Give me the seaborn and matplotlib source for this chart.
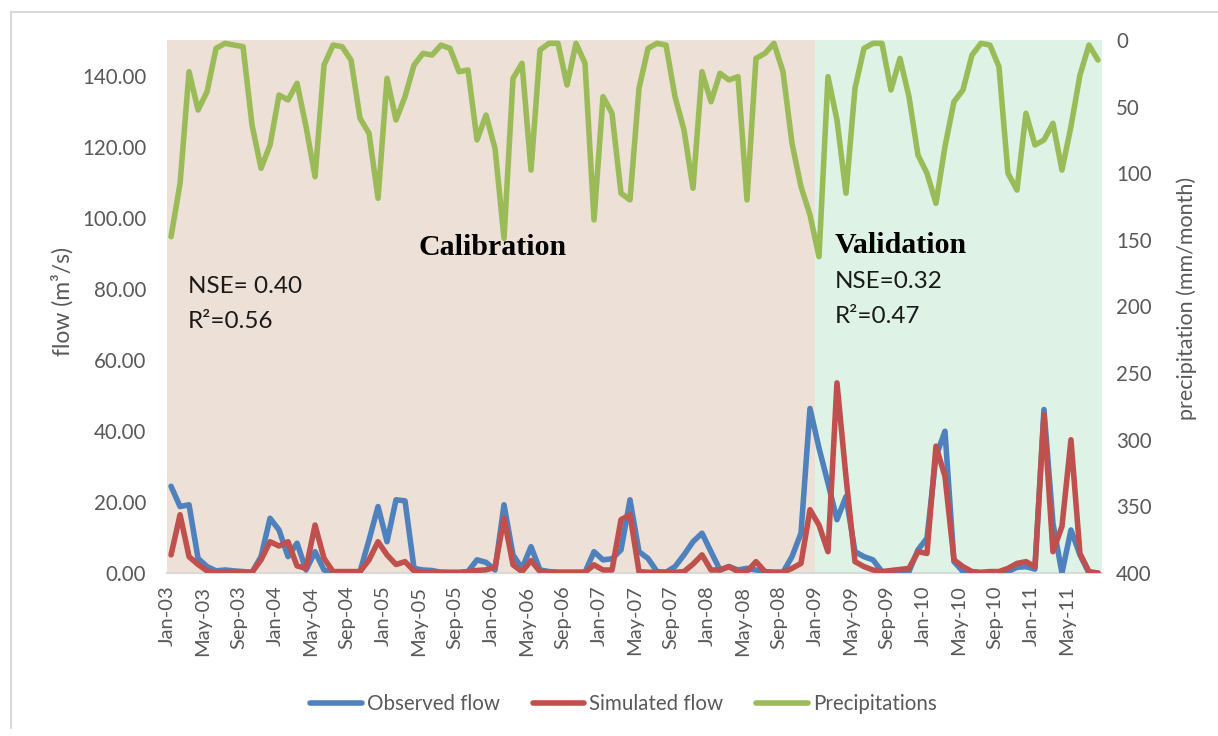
import numpy as np
import pandas as pd
import matplotlib
matplotlib.use("Agg")
import matplotlib.pyplot as plt
from matplotlib.lines import Line2D
import seaborn as sns

# monthly series, Jan-03 .. Aug-11
observed = [24.4, 18.7, 19.2, 4.1, 1.8, 0.6, 0.85, 0.6, 0.4, 0.2, 4.6, 15.4,
            12.1, 4.6, 8.4, 0.85, 6.0, 0.85, 0.0, 0.0, 0.2, 0.4, 9.3, 18.7,
            8.8, 20.6, 20.3, 1.3, 0.85, 0.7, 0.2, 0.1, 0.1, 0.4, 3.7, 3.0,
            0.85, 19.2, 5.1, 1.3, 7.4, 0.85, 0.4, 0.2, 0.2, 0.2, 0.2, 6.0,
            3.7, 4.0, 6.5, 20.6, 6.0, 4.1, 0.4, 0.2, 1.8, 5.1, 8.8, 11.2,
            6.0, 0.85, 1.8, 0.85, 1.3, 0.85, 0.4, 0.2, 0.2, 4.6, 11.2, 46.3,
            35.2, 25.3, 15.0, 21.5, 6.0, 4.6, 3.7, 0.4, 0.2, 0.2, 0.4, 6.5,
            9.8, 32.8, 39.9, 3.2, 0.4, 0.0, 0.0, 0.0, 0.1, 0.4, 1.6, 1.8,
            1.1, 46.0, 14.0, 0.0, 12.1, 5.1, 0.0, 0.0]
simulated = [5.1, 16.4, 4.6, 2.4, 0.6, 0.2, 0.2, 0.2, 0.2, 0.2, 3.7, 8.8,
             7.6, 8.8, 2.0, 1.3, 13.5, 4.1, 0.4, 0.4, 0.4, 0.4, 3.7, 8.8,
             5.1, 2.4, 3.2, 0.6, 0.2, 0.2, 0.2, 0.2, 0.2, 0.4, 0.7, 0.9,
             1.6, 15.4, 2.3, 0.4, 3.5, 0.4, 0.2, 0.2, 0.2, 0.2, 0.2, 2.3,
             0.85, 0.85, 15.0, 16.4, 0.4, 0.2, 0.2, 0.2, 0.2, 0.4, 2.5, 5.1,
             0.85, 0.85, 1.8, 0.4, 0.4, 3.2, 0.4, 0.2, 0.2, 1.3, 2.7, 17.8,
             13.5, 6.0, 53.5, 27.0, 3.2, 1.8, 0.85, 0.4, 0.7, 1.0, 1.3, 6.0,
             5.5, 35.7, 27.2, 3.7, 1.8, 0.4, 0.2, 0.4, 0.4, 1.3, 2.7, 3.2,
             1.8, 44.6, 6.0, 13.1, 37.5, 5.5, 0.4, 0.0]
precip = [147.6, 107.6, 23.8, 52.5, 38.8, 6.3, 2.5, 3.8, 5.0, 63.8, 96.3, 78.8,
          41.3, 45.0, 32.5, 65.0, 102.6, 18.8, 3.8, 5.0, 15.0, 58.8, 70.0, 118.8,
          28.8, 60.0, 42.5, 18.8, 10.0, 11.3, 3.8, 6.3, 23.8, 22.5, 75.0, 56.3,
          81.3, 148.8, 28.8, 17.5, 97.6, 7.5, 2.5, 2.5, 33.8, 2.5, 17.5, 135.0,
          42.5, 55.0, 115.0, 120.0, 36.3, 6.3, 2.5, 3.8, 42.5, 67.5, 111.3, 23.8,
          46.3, 25.0, 30.0, 27.5, 120.0, 13.8, 10.0, 2.5, 23.8, 77.5, 110.0, 131.3,
          162.6, 27.5, 60.0, 115.0, 36.3, 6.3, 2.5, 2.5, 37.5, 13.8, 42.5, 86.3,
          100.0, 122.6, 80.0, 46.3, 37.5, 11.3, 2.5, 3.8, 20.0, 100.0, 112.6, 55.0,
          78.8, 75.0, 62.5, 97.6, 65.0, 26.3, 3.8, 15.0]

tick_labels = ["Jan-03", "May-03", "Sep-03", "Jan-04", "May-04", "Sep-04",
               "Jan-05", "May-05", "Sep-05", "Jan-06", "May-06", "Sep-06",
               "Jan-07", "May-07", "Sep-07", "Jan-08", "May-08", "Sep-08",
               "Jan-09", "May-09", "Sep-09", "Jan-10", "May-10", "Sep-10",
               "Jan-11", "May-11"]

# points sit mid-month, ticks at month start
df = pd.DataFrame({
    "month": np.arange(len(observed)) + 0.45,
    "observed": observed,
    "simulated": simulated,
    "precip": precip,
})

sns.set_theme(style="white")
plt.rcParams["font.family"] = ["Lato", "DejaVu Sans"]

grey = "#595959"
blue, red, green = "#4F81BD", "#C0504D", "#9BBB59"
lw = 4.0

fig = plt.figure(figsize=(12.18, 7.36), dpi=100)
ax = fig.add_axes([167 / 1218, 1 - 573 / 736, (1102 - 167) / 1218, (573 - 40) / 736])
ax.set_facecolor("none")

ax.axvspan(0, 72, color="#EDE0D6", zorder=0, lw=0)
ax.axvspan(72, 104, color="#DEF3E5", zorder=0, lw=0)

sns.lineplot(data=df, x="month", y="observed", ax=ax, color=blue, lw=lw,
             label="Observed flow", zorder=3)
sns.lineplot(data=df, x="month", y="simulated", ax=ax, color=red, lw=lw,
             label="Simulated flow", zorder=4)

ax2 = ax.twinx()
sns.lineplot(data=df, x="month", y="precip", ax=ax2, color=green, lw=lw,
             label="Precipitations", zorder=3)

ax.set_xlim(0, 103.9)
ax.set_ylim(0, 150)
ax2.set_ylim(400, 0)

ax.set_xticks(np.arange(0, 4 * len(tick_labels), 4))
ax.set_xticklabels(tick_labels, rotation=90, fontsize=14.5, color=grey)
ax.set_yticks(np.arange(0, 141, 20))
ax.set_yticklabels([f"{v:.2f}" for v in np.arange(0, 141, 20)], fontsize=14.8, color=grey)
ax2.set_yticks(np.arange(0, 401, 50))
ax2.set_yticklabels([str(v) for v in range(0, 401, 50)], fontsize=14.8, color=grey)

ax.tick_params(axis="x", length=5, color="#D9D9D9", width=1.2, pad=4)
ax.tick_params(axis="y", length=0, pad=15)
ax2.tick_params(axis="y", length=0, pad=10)
for a in (ax, ax2):
    for s in a.spines.values():
        s.set_visible(False)
ax.spines["bottom"].set_visible(True)
ax.spines["bottom"].set_color("#D9D9D9")
ax.spines["bottom"].set_linewidth(1.5)

ax.set_xlabel("")
ax.set_ylabel("")
ax2.set_ylabel("")
fig.text(62 / 1218, 1 - 302 / 736, "flow (m³/s)", rotation=90, ha="center",
         va="center", fontsize=16.5, color=grey)
fig.text(1187 / 1218, 1 - 298 / 736, "precipitation (mm/month)", rotation=90,
         ha="center", va="center", fontsize=15.5, color=grey)

serif = ["Liberation Serif", "DejaVu Serif"]
ax.text(27.9, 91.7, "Calibration", fontsize=21.5, fontweight="bold",
        family=serif, va="center", color="black")
ax.text(74.2, 92.3, "Validation", fontsize=21.5, fontweight="bold",
        family=serif, va="center", color="black")
ax.text(2.3, 80.7, "NSE= 0.40", fontsize=17.5, va="center", color="#1a1a1a")
ax.text(2.3, 70.8, "R²=0.56", fontsize=17.5, va="center", color="#1a1a1a")
ax.text(74.2, 82.1, "NSE=0.32", fontsize=17.5, va="center", color="#1a1a1a")
ax.text(74.2, 72.3, "R²=0.47", fontsize=17.5, va="center", color="#1a1a1a")

for a in (ax, ax2):
    if a.get_legend():
        a.get_legend().remove()
handles = [Line2D([], [], color=c, lw=lw, solid_capstyle="round")
           for c in (blue, red, green)]
fig.legend(handles, ["Observed flow", "Simulated flow", "Precipitations"],
           loc="center", bbox_to_anchor=(0.512, 1 - 704 / 736), ncol=3,
           frameon=False, fontsize=14.8, handlelength=2.5, handletextpad=0.25,
           columnspacing=1.6, labelcolor=grey)

# chart frame
fig.add_artist(Line2D([11 / 1218, 11 / 1218], [1 - 728 / 736, 1 - 12 / 736],
                      color="#D9D9D9", lw=1.5))
fig.add_artist(Line2D([11 / 1218, 1.0], [1 - 12 / 736, 1 - 12 / 736],
                      color="#D9D9D9", lw=1.5))

fig.savefig("out.png", dpi=100)
